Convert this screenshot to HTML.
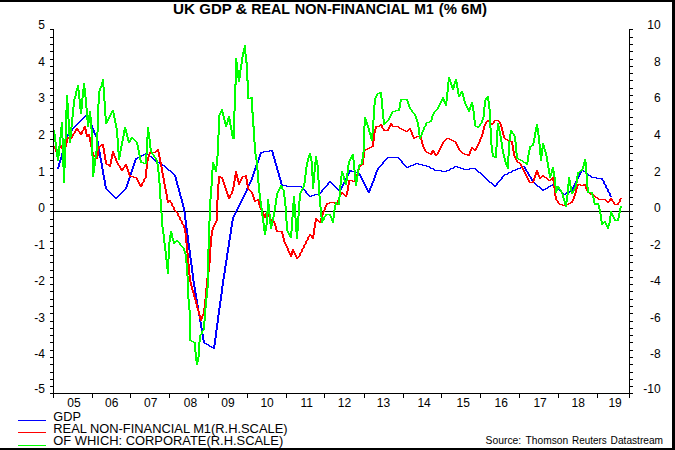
<!DOCTYPE html><html><head><meta charset="utf-8"><title>UK GDP &amp; REAL NON-FINANCIAL M1</title>
<style>html,body{margin:0;padding:0;background:#fff;}body{width:675px;height:450px;overflow:hidden;}svg{display:block;font-family:"Liberation Sans",sans-serif;}</style></head><body>
<svg width="675" height="450" viewBox="0 0 675 450">
<rect x="0" y="0" width="675" height="450" fill="#fff"/>
<g shape-rendering="crispEdges" stroke="none">
<rect x="53" y="211" width="580" height="1" fill="#000"/>
<path fill="#0000ff" d="M57 167h1v2h-1zM58 163h1v6h-1zM59 160h1v7h-1zM60 157h1v6h-1zM61 153h1v7h-1zM62 150h1v7h-1zM63 146h1v7h-1zM64 143h1v7h-1zM65 140h1v6h-1zM66 136h1v7h-1zM67 134h1v6h-1zM68 133h1v3h-1zM69 132h1v2h-1zM70 131h1v2h-1zM71 129h1v3h-1zM72 128h1v3h-1zM73 127h1v2h-1zM74 126h1v2h-1zM75 125h1v2h-1zM76 124h1v2h-1zM77 123h1v2h-1zM78 122h1v2h-1zM79 121h1v2h-1zM80 120h1v2h-1zM81 119h1v2h-1zM82 118h1v2h-1zM83 117h1v2h-1zM84 116h1v2h-1zM85 115h1v2h-1zM86 114h1v2h-1zM87 114h1v4h-1zM88 116h1v4h-1zM89 118h1v5h-1zM90 120h1v5h-1zM91 123h1v5h-1zM92 125h1v5h-1zM93 128h1v5h-1zM94 130h1v5h-1zM95 133h1v4h-1zM96 135h1v6h-1zM97 137h1v10h-1zM98 141h1v11h-1zM99 147h1v11h-1zM100 152h1v11h-1zM101 158h1v11h-1zM102 163h1v12h-1zM103 169h1v11h-1zM104 175h1v11h-1zM105 180h1v9h-1zM106 186h1v4h-1zM107 189h1v2h-1zM108 190h1v2h-1zM109 191h1v2h-1zM110 192h1v2h-1zM111 193h1v2h-1zM112 194h1v2h-1zM113 195h1v2h-1zM114 196h1v2h-1zM115 197h1v2h-1zM116 197h1v2h-1zM117 196h1v2h-1zM118 195h1v2h-1zM119 194h1v2h-1zM120 193h1v2h-1zM121 192h1v2h-1zM122 191h1v2h-1zM123 190h1v2h-1zM124 189h1v2h-1zM125 187h1v3h-1zM126 184h1v5h-1zM127 181h1v6h-1zM128 178h1v6h-1zM129 175h1v6h-1zM130 172h1v6h-1zM131 169h1v6h-1zM132 166h1v6h-1zM133 163h1v6h-1zM134 160h1v6h-1zM135 158h1v5h-1zM136 158h1v2h-1zM137 157h1v2h-1zM138 157h1v1h-1zM139 156h1v2h-1zM140 156h1v1h-1zM141 155h1v2h-1zM142 155h1v1h-1zM143 154h1v2h-1zM144 154h1v1h-1zM145 153h1v2h-1zM146 153h1v1h-1zM147 153h1v2h-1zM148 154h1v2h-1zM149 155h1v2h-1zM150 156h1v1h-1zM151 156h1v2h-1zM152 157h1v2h-1zM153 158h1v2h-1zM154 159h1v2h-1zM155 160h1v2h-1zM156 161h1v1h-1zM157 161h1v2h-1zM158 162h1v1h-1zM159 162h1v2h-1zM160 163h1v2h-1zM161 164h1v1h-1zM162 164h1v2h-1zM163 165h1v1h-1zM164 165h1v2h-1zM165 166h1v2h-1zM166 167h1v2h-1zM167 168h1v2h-1zM168 169h1v2h-1zM169 170h1v1h-1zM170 170h1v2h-1zM171 171h1v2h-1zM172 172h1v2h-1zM173 173h1v2h-1zM174 174h1v3h-1zM175 175h1v6h-1zM176 177h1v8h-1zM177 181h1v7h-1zM178 185h1v7h-1zM179 188h1v8h-1zM180 192h1v7h-1zM181 196h1v7h-1zM182 199h1v8h-1zM183 203h1v9h-1zM184 207h1v13h-1zM185 212h1v16h-1zM186 220h1v15h-1zM187 228h1v15h-1zM188 235h1v15h-1zM189 243h1v15h-1zM190 250h1v15h-1zM191 258h1v15h-1zM192 265h1v16h-1zM193 273h1v14h-1zM194 281h1v12h-1zM195 287h1v12h-1zM196 293h1v12h-1zM197 299h1v12h-1zM198 305h1v11h-1zM199 311h1v11h-1zM200 316h1v12h-1zM201 322h1v12h-1zM202 328h1v12h-1zM203 334h1v9h-1zM204 340h1v4h-1zM205 343h1v1h-1zM206 343h1v2h-1zM207 344h1v1h-1zM208 344h1v2h-1zM209 345h1v2h-1zM210 346h1v1h-1zM211 346h1v2h-1zM212 347h1v1h-1zM213 345h1v4h-1zM214 338h1v11h-1zM215 330h1v15h-1zM216 323h1v15h-1zM217 315h1v15h-1zM218 308h1v15h-1zM219 301h1v14h-1zM220 294h1v14h-1zM221 286h1v15h-1zM222 279h1v15h-1zM223 273h1v13h-1zM224 266h1v13h-1zM225 260h1v13h-1zM226 253h1v13h-1zM227 247h1v13h-1zM228 240h1v13h-1zM229 234h1v13h-1zM230 227h1v13h-1zM231 221h1v13h-1zM232 217h1v10h-1zM233 215h1v6h-1zM234 213h1v4h-1zM235 211h1v4h-1zM236 209h1v4h-1zM237 207h1v4h-1zM238 205h1v4h-1zM239 203h1v4h-1zM240 201h1v4h-1zM241 199h1v4h-1zM242 197h1v4h-1zM243 195h1v4h-1zM244 193h1v4h-1zM245 191h1v4h-1zM246 188h1v5h-1zM247 186h1v5h-1zM248 184h1v4h-1zM249 182h1v4h-1zM250 180h1v4h-1zM251 177h1v5h-1zM252 174h1v6h-1zM253 171h1v6h-1zM254 168h1v6h-1zM255 165h1v6h-1zM256 163h1v5h-1zM257 160h1v5h-1zM258 157h1v6h-1zM259 154h1v6h-1zM260 152h1v5h-1zM261 152h1v2h-1zM262 152h1v1h-1zM263 151h1v2h-1zM264 151h1v1h-1zM265 151h1v1h-1zM266 151h1v1h-1zM267 151h1v1h-1zM268 151h1v1h-1zM269 150h1v2h-1zM270 150h1v1h-1zM271 150h1v2h-1zM272 150h1v6h-1zM273 152h1v7h-1zM274 156h1v7h-1zM275 159h1v7h-1zM276 163h1v7h-1zM277 166h1v7h-1zM278 170h1v7h-1zM279 173h1v7h-1zM280 177h1v7h-1zM281 180h1v6h-1zM282 184h1v2h-1zM283 185h1v1h-1zM284 185h1v1h-1zM285 185h1v1h-1zM286 185h1v2h-1zM287 186h1v1h-1zM288 186h1v1h-1zM289 186h1v1h-1zM290 186h1v1h-1zM291 186h1v1h-1zM292 186h1v1h-1zM293 186h1v1h-1zM294 186h1v1h-1zM295 186h1v1h-1zM296 186h1v1h-1zM297 186h1v1h-1zM298 186h1v1h-1zM299 186h1v1h-1zM300 186h1v1h-1zM301 186h1v2h-1zM302 187h1v2h-1zM303 188h1v2h-1zM304 189h1v2h-1zM305 190h1v3h-1zM306 191h1v3h-1zM307 193h1v2h-1zM308 194h1v2h-1zM309 195h1v2h-1zM310 196h1v1h-1zM311 195h1v2h-1zM312 195h1v1h-1zM313 195h1v1h-1zM314 194h1v2h-1zM315 194h1v1h-1zM316 194h1v1h-1zM317 194h1v1h-1zM318 193h1v2h-1zM319 193h1v1h-1zM320 192h1v2h-1zM321 190h1v3h-1zM322 189h1v3h-1zM323 188h1v2h-1zM324 187h1v2h-1zM325 186h1v2h-1zM326 185h1v2h-1zM327 183h1v3h-1zM328 182h1v3h-1zM329 181h1v2h-1zM330 181h1v2h-1zM331 182h1v2h-1zM332 183h1v2h-1zM333 184h1v2h-1zM334 185h1v2h-1zM335 186h1v2h-1zM336 187h1v2h-1zM337 188h1v2h-1zM338 189h1v2h-1zM339 190h1v2h-1zM340 188h1v4h-1zM341 186h1v4h-1zM342 184h1v4h-1zM343 182h1v4h-1zM344 180h1v4h-1zM345 178h1v4h-1zM346 176h1v4h-1zM347 174h1v4h-1zM348 172h1v4h-1zM349 170h1v4h-1zM350 170h1v2h-1zM351 170h1v2h-1zM352 171h1v1h-1zM353 171h1v1h-1zM354 171h1v2h-1zM355 172h1v1h-1zM356 172h1v1h-1zM357 172h1v2h-1zM358 173h1v1h-1zM359 173h1v3h-1zM360 174h1v4h-1zM361 176h1v4h-1zM362 178h1v4h-1zM363 180h1v4h-1zM364 182h1v4h-1zM365 184h1v4h-1zM366 186h1v4h-1zM367 188h1v4h-1zM368 190h1v3h-1zM369 188h1v5h-1zM370 186h1v5h-1zM371 183h1v5h-1zM372 181h1v5h-1zM373 178h1v5h-1zM374 175h1v6h-1zM375 172h1v6h-1zM376 170h1v5h-1zM377 168h1v4h-1zM378 167h1v3h-1zM379 166h1v2h-1zM380 165h1v2h-1zM381 164h1v2h-1zM382 162h1v3h-1zM383 161h1v3h-1zM384 160h1v2h-1zM385 159h1v2h-1zM386 158h1v2h-1zM387 157h1v2h-1zM388 157h1v1h-1zM389 157h1v1h-1zM390 157h1v1h-1zM391 157h1v1h-1zM392 157h1v1h-1zM393 157h1v1h-1zM394 157h1v1h-1zM395 157h1v1h-1zM396 157h1v1h-1zM397 157h1v1h-1zM398 157h1v2h-1zM399 158h1v2h-1zM400 159h1v2h-1zM401 160h1v3h-1zM402 161h1v3h-1zM403 163h1v2h-1zM404 164h1v2h-1zM405 165h1v2h-1zM406 166h1v2h-1zM407 167h1v1h-1zM408 166h1v2h-1zM409 166h1v1h-1zM410 165h1v2h-1zM411 165h1v1h-1zM412 165h1v1h-1zM413 164h1v2h-1zM414 164h1v1h-1zM415 163h1v2h-1zM416 163h1v1h-1zM417 163h1v1h-1zM418 163h1v2h-1zM419 164h1v1h-1zM420 164h1v1h-1zM421 164h1v1h-1zM422 164h1v2h-1zM423 165h1v1h-1zM424 165h1v1h-1zM425 165h1v1h-1zM426 165h1v2h-1zM427 166h1v1h-1zM428 166h1v1h-1zM429 166h1v2h-1zM430 167h1v2h-1zM431 168h1v1h-1zM432 168h1v1h-1zM433 168h1v2h-1zM434 169h1v2h-1zM435 170h1v1h-1zM436 170h1v1h-1zM437 170h1v1h-1zM438 170h1v1h-1zM439 170h1v1h-1zM440 170h1v1h-1zM441 170h1v2h-1zM442 171h1v1h-1zM443 171h1v1h-1zM444 171h1v1h-1zM445 171h1v1h-1zM446 170h1v2h-1zM447 170h1v1h-1zM448 170h1v1h-1zM449 169h1v2h-1zM450 168h1v2h-1zM451 168h1v1h-1zM452 168h1v1h-1zM453 167h1v2h-1zM454 166h1v2h-1zM455 166h1v1h-1zM456 166h1v1h-1zM457 166h1v2h-1zM458 167h1v1h-1zM459 167h1v1h-1zM460 167h1v2h-1zM461 168h1v1h-1zM462 168h1v1h-1zM463 168h1v2h-1zM464 169h1v1h-1zM465 169h1v1h-1zM466 169h1v1h-1zM467 169h1v1h-1zM468 169h1v1h-1zM469 168h1v2h-1zM470 168h1v1h-1zM471 168h1v1h-1zM472 168h1v1h-1zM473 168h1v1h-1zM474 168h1v1h-1zM475 168h1v2h-1zM476 169h1v2h-1zM477 170h1v2h-1zM478 171h1v2h-1zM479 172h1v1h-1zM480 172h1v2h-1zM481 173h1v2h-1zM482 174h1v2h-1zM483 175h1v2h-1zM484 176h1v2h-1zM485 177h1v2h-1zM486 178h1v2h-1zM487 179h1v2h-1zM488 180h1v2h-1zM489 181h1v2h-1zM490 182h1v1h-1zM491 182h1v2h-1zM492 183h1v2h-1zM493 184h1v2h-1zM494 185h1v2h-1zM495 185h1v2h-1zM496 183h1v3h-1zM497 182h1v3h-1zM498 181h1v2h-1zM499 180h1v2h-1zM500 179h1v2h-1zM501 177h1v3h-1zM502 176h1v3h-1zM503 175h1v2h-1zM504 174h1v2h-1zM505 174h1v1h-1zM506 174h1v1h-1zM507 173h1v2h-1zM508 172h1v2h-1zM509 172h1v1h-1zM510 172h1v1h-1zM511 171h1v2h-1zM512 170h1v2h-1zM513 170h1v1h-1zM514 170h1v1h-1zM515 169h1v2h-1zM516 169h1v1h-1zM517 168h1v2h-1zM518 168h1v1h-1zM519 168h1v1h-1zM520 167h1v2h-1zM521 167h1v1h-1zM522 166h1v2h-1zM523 166h1v1h-1zM524 166h1v3h-1zM525 167h1v4h-1zM526 169h1v3h-1zM527 171h1v3h-1zM528 172h1v4h-1zM529 174h1v3h-1zM530 176h1v3h-1zM531 177h1v4h-1zM532 179h1v3h-1zM533 181h1v2h-1zM534 182h1v2h-1zM535 183h1v2h-1zM536 184h1v2h-1zM537 185h1v2h-1zM538 186h1v1h-1zM539 186h1v2h-1zM540 187h1v2h-1zM541 188h1v2h-1zM542 189h1v2h-1zM543 189h1v2h-1zM544 189h1v1h-1zM545 188h1v2h-1zM546 188h1v1h-1zM547 187h1v2h-1zM548 186h1v2h-1zM549 186h1v1h-1zM550 185h1v2h-1zM551 185h1v1h-1zM552 184h1v2h-1zM553 184h1v2h-1zM554 185h1v2h-1zM555 186h1v2h-1zM556 187h1v2h-1zM557 188h1v2h-1zM558 189h1v1h-1zM559 189h1v2h-1zM560 190h1v2h-1zM561 191h1v2h-1zM562 192h1v2h-1zM563 193h1v2h-1zM564 194h1v1h-1zM565 193h1v2h-1zM566 192h1v2h-1zM567 192h1v1h-1zM568 192h1v1h-1zM569 191h1v2h-1zM570 190h1v2h-1zM571 189h1v2h-1zM572 187h1v4h-1zM573 185h1v4h-1zM574 183h1v4h-1zM575 181h1v4h-1zM576 179h1v4h-1zM577 177h1v4h-1zM578 175h1v4h-1zM579 173h1v4h-1zM580 171h1v4h-1zM581 169h1v4h-1zM582 169h1v2h-1zM583 170h1v2h-1zM584 171h1v1h-1zM585 171h1v2h-1zM586 172h1v2h-1zM587 173h1v2h-1zM588 174h1v2h-1zM589 175h1v1h-1zM590 175h1v2h-1zM591 176h1v2h-1zM592 177h1v1h-1zM593 177h1v1h-1zM594 177h1v1h-1zM595 177h1v1h-1zM596 177h1v2h-1zM597 178h1v1h-1zM598 178h1v1h-1zM599 178h1v1h-1zM600 178h1v1h-1zM601 178h1v2h-1zM602 178h1v3h-1zM603 180h1v4h-1zM604 181h1v4h-1zM605 184h1v4h-1zM606 185h1v4h-1zM607 188h1v4h-1zM608 189h1v4h-1zM609 192h1v4h-1zM610 193h1v4h-1zM611 196h1v1h-1z"/>
<path fill="#ff0000" d="M53 146h1v2h-1zM54 146h1v3h-1zM55 148h1v4h-1zM56 149h1v4h-1zM57 150h1v3h-1zM58 148h1v4h-1zM59 146h1v4h-1zM60 145h1v3h-1zM61 145h1v4h-1zM62 147h1v4h-1zM63 149h1v4h-1zM64 147h1v6h-1zM65 143h1v8h-1zM66 139h1v8h-1zM67 137h1v6h-1zM68 137h1v2h-1zM69 137h1v2h-1zM70 138h1v1h-1zM71 136h1v3h-1zM72 134h1v4h-1zM73 133h1v3h-1zM74 131h1v3h-1zM75 129h1v4h-1zM76 128h1v3h-1zM77 128h1v3h-1zM78 129h1v3h-1zM79 131h1v3h-1zM80 132h1v3h-1zM81 131h1v4h-1zM82 130h1v4h-1zM83 127h1v4h-1zM84 126h1v4h-1zM85 126h1v8h-1zM86 129h1v8h-1zM87 134h1v3h-1zM88 134h1v3h-1zM89 134h1v8h-1zM90 137h1v10h-1zM91 142h1v10h-1zM92 147h1v8h-1zM93 152h1v4h-1zM94 155h1v2h-1zM95 156h1v2h-1zM96 156h1v3h-1zM97 149h1v10h-1zM98 146h1v10h-1zM99 146h1v3h-1zM100 145h1v2h-1zM101 144h1v2h-1zM102 144h1v4h-1zM103 144h1v10h-1zM104 148h1v12h-1zM105 154h1v10h-1zM106 160h1v5h-1zM107 164h1v1h-1zM108 164h1v2h-1zM109 164h1v3h-1zM110 159h1v8h-1zM111 154h1v10h-1zM112 151h1v8h-1zM113 151h1v5h-1zM114 153h1v5h-1zM115 156h1v5h-1zM116 158h1v5h-1zM117 161h1v4h-1zM118 163h1v3h-1zM119 165h1v3h-1zM120 166h1v4h-1zM121 168h1v3h-1zM122 168h1v3h-1zM123 167h1v3h-1zM124 165h1v3h-1zM125 164h1v3h-1zM126 164h1v5h-1zM127 166h1v6h-1zM128 169h1v6h-1zM129 172h1v5h-1zM130 175h1v2h-1zM131 176h1v1h-1zM132 176h1v1h-1zM133 176h1v2h-1zM134 177h1v1h-1zM135 177h1v1h-1zM136 177h1v3h-1zM137 178h1v4h-1zM138 180h1v4h-1zM139 182h1v4h-1zM140 184h1v3h-1zM141 183h1v4h-1zM142 182h1v4h-1zM143 179h1v4h-1zM144 178h1v4h-1zM145 169h1v10h-1zM146 161h1v17h-1zM147 157h1v12h-1zM148 154h1v7h-1zM149 152h1v5h-1zM150 152h1v2h-1zM151 152h1v1h-1zM152 152h1v1h-1zM153 152h1v1h-1zM154 152h1v1h-1zM155 151h1v2h-1zM156 150h1v2h-1zM157 149h1v3h-1zM158 149h1v8h-1zM159 152h1v10h-1zM160 157h1v10h-1zM161 162h1v11h-1zM162 167h1v11h-1zM163 173h1v11h-1zM164 178h1v11h-1zM165 184h1v10h-1zM166 189h1v11h-1zM167 194h1v9h-1zM168 200h1v3h-1zM169 200h1v2h-1zM170 200h1v3h-1zM171 202h1v4h-1zM172 203h1v4h-1zM173 206h1v4h-1zM174 207h1v4h-1zM175 210h1v2h-1zM176 211h1v2h-1zM177 212h1v4h-1zM178 213h1v4h-1zM179 216h1v4h-1zM180 217h1v4h-1zM181 220h1v4h-1zM182 221h1v4h-1zM183 224h1v4h-1zM184 225h1v8h-1zM185 228h1v15h-1zM186 233h1v20h-1zM187 243h1v21h-1zM188 253h1v22h-1zM189 264h1v18h-1zM190 275h1v11h-1zM191 282h1v8h-1zM192 286h1v7h-1zM193 290h1v7h-1zM194 293h1v7h-1zM195 297h1v7h-1zM196 300h1v8h-1zM197 304h1v7h-1zM198 308h1v7h-1zM199 311h1v8h-1zM200 315h1v6h-1zM201 316h1v5h-1zM202 314h1v5h-1zM203 308h1v8h-1zM204 299h1v15h-1zM205 288h1v20h-1zM206 278h1v21h-1zM207 272h1v16h-1zM208 263h1v15h-1zM209 247h1v25h-1zM210 236h1v27h-1zM211 230h1v17h-1zM212 227h1v9h-1zM213 225h1v5h-1zM214 223h1v4h-1zM215 221h1v4h-1zM216 200h1v23h-1zM217 184h1v37h-1zM218 176h1v24h-1zM219 176h1v8h-1zM220 176h1v2h-1zM221 177h1v2h-1zM222 177h1v5h-1zM223 179h1v6h-1zM224 182h1v6h-1zM225 185h1v6h-1zM226 188h1v6h-1zM227 191h1v6h-1zM228 194h1v5h-1zM229 195h1v4h-1zM230 194h1v4h-1zM231 191h1v4h-1zM232 187h1v7h-1zM233 181h1v10h-1zM234 175h1v12h-1zM235 171h1v10h-1zM236 171h1v7h-1zM237 174h1v8h-1zM238 178h1v7h-1zM239 181h1v4h-1zM240 179h1v4h-1zM241 177h1v4h-1zM242 176h1v3h-1zM243 176h1v1h-1zM244 176h1v1h-1zM245 175h1v4h-1zM246 175h1v10h-1zM247 179h1v10h-1zM248 185h1v5h-1zM249 189h1v2h-1zM250 190h1v2h-1zM251 191h1v3h-1zM252 192h1v5h-1zM253 194h1v6h-1zM254 197h1v5h-1zM255 200h1v2h-1zM256 200h1v1h-1zM257 199h1v2h-1zM258 199h1v6h-1zM259 201h1v7h-1zM260 205h1v5h-1zM261 208h1v4h-1zM262 210h1v4h-1zM263 212h1v4h-1zM264 214h1v4h-1zM265 213h1v5h-1zM266 211h1v5h-1zM267 211h1v4h-1zM268 213h1v4h-1zM269 215h1v4h-1zM270 217h1v3h-1zM271 219h1v2h-1zM272 220h1v1h-1zM273 220h1v3h-1zM274 221h1v5h-1zM275 223h1v7h-1zM276 226h1v6h-1zM277 230h1v2h-1zM278 231h1v1h-1zM279 231h1v1h-1zM280 231h1v1h-1zM281 231h1v3h-1zM282 231h1v7h-1zM283 234h1v8h-1zM284 238h1v6h-1zM285 242h1v4h-1zM286 244h1v4h-1zM287 246h1v5h-1zM288 248h1v5h-1zM289 251h1v4h-1zM290 253h1v4h-1zM291 251h1v6h-1zM292 249h1v6h-1zM293 249h1v4h-1zM294 251h1v4h-1zM295 253h1v4h-1zM296 255h1v4h-1zM297 257h1v2h-1zM298 256h1v2h-1zM299 253h1v4h-1zM300 252h1v4h-1zM301 249h1v4h-1zM302 248h1v4h-1zM303 245h1v4h-1zM304 244h1v4h-1zM305 241h1v4h-1zM306 240h1v4h-1zM307 237h1v4h-1zM308 236h1v4h-1zM309 234h1v3h-1zM310 234h1v2h-1zM311 235h1v3h-1zM312 235h1v4h-1zM313 228h1v11h-1zM314 222h1v13h-1zM315 218h1v10h-1zM316 218h1v4h-1zM317 219h1v2h-1zM318 220h1v2h-1zM319 221h1v2h-1zM320 218h1v5h-1zM321 215h1v6h-1zM322 212h1v6h-1zM323 210h1v5h-1zM324 207h1v5h-1zM325 205h1v5h-1zM326 203h1v4h-1zM327 203h1v2h-1zM328 203h1v1h-1zM329 202h1v2h-1zM330 202h1v1h-1zM331 202h1v1h-1zM332 202h1v1h-1zM333 202h1v1h-1zM334 202h1v2h-1zM335 203h1v2h-1zM336 203h1v2h-1zM337 200h1v5h-1zM338 197h1v6h-1zM339 195h1v5h-1zM340 193h1v4h-1zM341 192h1v3h-1zM342 192h1v2h-1zM343 193h1v2h-1zM344 194h1v2h-1zM345 195h1v2h-1zM346 191h1v6h-1zM347 185h1v10h-1zM348 180h1v11h-1zM349 180h1v5h-1zM350 180h1v1h-1zM351 180h1v1h-1zM352 180h1v2h-1zM353 181h1v1h-1zM354 180h1v2h-1zM355 177h1v5h-1zM356 174h1v6h-1zM357 170h1v7h-1zM358 167h1v7h-1zM359 165h1v5h-1zM360 165h1v2h-1zM361 164h1v2h-1zM362 158h1v7h-1zM363 150h1v15h-1zM364 150h1v8h-1zM365 149h1v2h-1zM366 149h1v1h-1zM367 148h1v2h-1zM368 148h1v1h-1zM369 147h1v2h-1zM370 147h1v1h-1zM371 146h1v2h-1zM372 141h1v6h-1zM373 133h1v14h-1zM374 129h1v12h-1zM375 126h1v7h-1zM376 126h1v3h-1zM377 126h1v1h-1zM378 126h1v1h-1zM379 125h1v2h-1zM380 124h1v2h-1zM381 124h1v4h-1zM382 125h1v4h-1zM383 128h1v3h-1zM384 129h1v2h-1zM385 130h1v1h-1zM386 130h1v1h-1zM387 129h1v2h-1zM388 127h1v4h-1zM389 125h1v4h-1zM390 123h1v4h-1zM391 123h1v3h-1zM392 124h1v3h-1zM393 126h1v1h-1zM394 126h1v1h-1zM395 126h1v1h-1zM396 126h1v1h-1zM397 126h1v1h-1zM398 126h1v2h-1zM399 127h1v2h-1zM400 128h1v1h-1zM401 128h1v2h-1zM402 129h1v1h-1zM403 129h1v2h-1zM404 130h1v1h-1zM405 130h1v2h-1zM406 131h1v1h-1zM407 130h1v2h-1zM408 129h1v2h-1zM409 128h1v2h-1zM410 128h1v4h-1zM411 130h1v5h-1zM412 132h1v5h-1zM413 135h1v4h-1zM414 137h1v2h-1zM415 137h1v1h-1zM416 136h1v2h-1zM417 136h1v1h-1zM418 136h1v1h-1zM419 136h1v2h-1zM420 137h1v3h-1zM421 137h1v7h-1zM422 140h1v7h-1zM423 144h1v5h-1zM424 147h1v4h-1zM425 149h1v3h-1zM426 151h1v2h-1zM427 152h1v1h-1zM428 152h1v2h-1zM429 153h1v1h-1zM430 153h1v2h-1zM431 151h1v4h-1zM432 150h1v4h-1zM433 150h1v3h-1zM434 151h1v4h-1zM435 153h1v3h-1zM436 154h1v2h-1zM437 152h1v3h-1zM438 150h1v4h-1zM439 148h1v4h-1zM440 146h1v4h-1zM441 144h1v4h-1zM442 142h1v4h-1zM443 141h1v3h-1zM444 140h1v2h-1zM445 139h1v2h-1zM446 138h1v2h-1zM447 138h1v1h-1zM448 138h1v1h-1zM449 138h1v2h-1zM450 139h1v1h-1zM451 139h1v2h-1zM452 140h1v1h-1zM453 140h1v2h-1zM454 141h1v1h-1zM455 141h1v3h-1zM456 142h1v4h-1zM457 144h1v4h-1zM458 146h1v4h-1zM459 148h1v3h-1zM460 150h1v2h-1zM461 151h1v2h-1zM462 152h1v2h-1zM463 153h1v1h-1zM464 153h1v2h-1zM465 154h1v1h-1zM466 154h1v1h-1zM467 154h1v2h-1zM468 154h1v2h-1zM469 151h1v5h-1zM470 149h1v5h-1zM471 147h1v4h-1zM472 147h1v2h-1zM473 148h1v2h-1zM474 149h1v2h-1zM475 148h1v3h-1zM476 146h1v4h-1zM477 144h1v4h-1zM478 142h1v4h-1zM479 139h1v5h-1zM480 137h1v5h-1zM481 134h1v5h-1zM482 130h1v7h-1zM483 126h1v8h-1zM484 124h1v6h-1zM485 122h1v4h-1zM486 121h1v3h-1zM487 120h1v2h-1zM488 120h1v2h-1zM489 121h1v2h-1zM490 122h1v2h-1zM491 123h1v2h-1zM492 123h1v2h-1zM493 121h1v3h-1zM494 120h1v3h-1zM495 120h1v1h-1zM496 120h1v1h-1zM497 120h1v1h-1zM498 120h1v2h-1zM499 121h1v3h-1zM500 122h1v5h-1zM501 124h1v7h-1zM502 127h1v8h-1zM503 131h1v7h-1zM504 135h1v4h-1zM505 138h1v2h-1zM506 139h1v1h-1zM507 139h1v2h-1zM508 140h1v2h-1zM509 141h1v1h-1zM510 141h1v1h-1zM511 141h1v4h-1zM512 141h1v10h-1zM513 145h1v11h-1zM514 151h1v7h-1zM515 156h1v4h-1zM516 158h1v4h-1zM517 160h1v3h-1zM518 162h1v1h-1zM519 162h1v2h-1zM520 163h1v3h-1zM521 164h1v4h-1zM522 166h1v4h-1zM523 168h1v4h-1zM524 170h1v4h-1zM525 172h1v4h-1zM526 174h1v4h-1zM527 176h1v4h-1zM528 178h1v4h-1zM529 180h1v3h-1zM530 182h1v1h-1zM531 182h1v1h-1zM532 181h1v2h-1zM533 178h1v5h-1zM534 175h1v6h-1zM535 172h1v6h-1zM536 170h1v5h-1zM537 170h1v5h-1zM538 172h1v5h-1zM539 175h1v4h-1zM540 177h1v2h-1zM541 176h1v2h-1zM542 175h1v2h-1zM543 175h1v2h-1zM544 176h1v2h-1zM545 177h1v1h-1zM546 177h1v2h-1zM547 178h1v2h-1zM548 179h1v2h-1zM549 180h1v1h-1zM550 179h1v2h-1zM551 178h1v2h-1zM552 177h1v4h-1zM553 177h1v11h-1zM554 181h1v15h-1zM555 188h1v12h-1zM556 196h1v5h-1zM557 200h1v3h-1zM558 201h1v3h-1zM559 203h1v2h-1zM560 204h1v1h-1zM561 204h1v1h-1zM562 204h1v2h-1zM563 205h1v1h-1zM564 205h1v1h-1zM565 205h1v1h-1zM566 204h1v2h-1zM567 204h1v1h-1zM568 203h1v2h-1zM569 203h1v1h-1zM570 202h1v2h-1zM571 201h1v2h-1zM572 199h1v4h-1zM573 196h1v5h-1zM574 193h1v6h-1zM575 189h1v7h-1zM576 186h1v7h-1zM577 184h1v5h-1zM578 184h1v2h-1zM579 184h1v1h-1zM580 184h1v2h-1zM581 185h1v1h-1zM582 185h1v1h-1zM583 184h1v2h-1zM584 184h1v2h-1zM585 184h1v5h-1zM586 186h1v5h-1zM587 189h1v3h-1zM588 191h1v2h-1zM589 192h1v2h-1zM590 193h1v2h-1zM591 194h1v1h-1zM592 194h1v1h-1zM593 194h1v2h-1zM594 195h1v2h-1zM595 196h1v2h-1zM596 197h1v1h-1zM597 197h1v2h-1zM598 198h1v2h-1zM599 199h1v1h-1zM600 199h1v1h-1zM601 199h1v1h-1zM602 199h1v1h-1zM603 199h1v1h-1zM604 199h1v1h-1zM605 199h1v2h-1zM606 200h1v2h-1zM607 201h1v2h-1zM608 201h1v2h-1zM609 199h1v3h-1zM610 198h1v3h-1zM611 198h1v3h-1zM612 199h1v3h-1zM613 201h1v3h-1zM614 202h1v3h-1zM615 204h1v1h-1zM616 204h1v1h-1zM617 203h1v2h-1zM618 202h1v3h-1zM619 199h1v4h-1zM620 198h1v4h-1zM621 198h1v1h-1z"/>
<path fill="#00ff00" d="M53 130h1v4h-1zM54 130h1v12h-1zM55 134h1v15h-1zM56 142h1v15h-1zM57 149h1v12h-1zM58 146h1v15h-1zM59 137h1v19h-1zM60 127h1v19h-1zM61 122h1v16h-1zM62 122h1v45h-1zM63 138h1v45h-1zM64 139h1v44h-1zM65 110h1v58h-1zM66 95h1v44h-1zM67 95h1v24h-1zM68 103h1v32h-1zM69 119h1v24h-1zM70 127h1v16h-1zM71 117h1v20h-1zM72 107h1v20h-1zM73 99h1v18h-1zM74 96h1v11h-1zM75 91h1v8h-1zM76 88h1v8h-1zM77 85h1v6h-1zM78 85h1v14h-1zM79 90h1v19h-1zM80 99h1v15h-1zM81 98h1v16h-1zM82 89h1v20h-1zM83 83h1v15h-1zM84 83h1v14h-1zM85 88h1v20h-1zM86 97h1v23h-1zM87 108h1v19h-1zM88 115h1v12h-1zM89 111h1v12h-1zM90 111h1v18h-1zM91 117h1v39h-1zM92 129h1v48h-1zM93 156h1v21h-1zM94 158h1v15h-1zM95 151h1v15h-1zM96 132h1v26h-1zM97 104h1v47h-1zM98 91h1v41h-1zM99 88h1v16h-1zM100 86h1v5h-1zM101 82h1v6h-1zM102 79h1v8h-1zM103 79h1v22h-1zM104 87h1v29h-1zM105 101h1v23h-1zM106 116h1v8h-1zM107 119h1v4h-1zM108 117h1v4h-1zM109 115h1v4h-1zM110 113h1v4h-1zM111 111h1v4h-1zM112 110h1v3h-1zM113 110h1v8h-1zM114 113h1v10h-1zM115 118h1v10h-1zM116 123h1v15h-1zM117 128h1v24h-1zM118 138h1v22h-1zM119 151h1v9h-1zM120 146h1v11h-1zM121 141h1v10h-1zM122 136h1v10h-1zM123 130h1v11h-1zM124 127h1v9h-1zM125 127h1v6h-1zM126 129h1v8h-1zM127 133h1v8h-1zM128 137h1v6h-1zM129 140h1v3h-1zM130 138h1v4h-1zM131 137h1v3h-1zM132 137h1v2h-1zM133 138h1v2h-1zM134 139h1v2h-1zM135 140h1v2h-1zM136 141h1v4h-1zM137 142h1v8h-1zM138 145h1v10h-1zM139 150h1v10h-1zM140 155h1v8h-1zM141 160h1v3h-1zM142 162h1v1h-1zM143 162h1v2h-1zM144 163h1v1h-1zM145 154h1v10h-1zM146 137h1v27h-1zM147 127h1v27h-1zM148 127h1v12h-1zM149 132h1v16h-1zM150 139h1v13h-1zM151 148h1v6h-1zM152 152h1v3h-1zM153 154h1v3h-1zM154 155h1v3h-1zM155 157h1v3h-1zM156 158h1v6h-1zM157 160h1v12h-1zM158 164h1v19h-1zM159 172h1v27h-1zM160 183h1v30h-1zM161 199h1v28h-1zM162 213h1v21h-1zM163 227h1v16h-1zM164 234h1v17h-1zM165 243h1v17h-1zM166 251h1v18h-1zM167 259h1v15h-1zM168 242h1v32h-1zM169 235h1v24h-1zM170 231h1v11h-1zM171 231h1v7h-1zM172 233h1v8h-1zM173 238h1v6h-1zM174 241h1v3h-1zM175 241h1v2h-1zM176 240h1v2h-1zM177 240h1v2h-1zM178 241h1v2h-1zM179 242h1v3h-1zM180 243h1v3h-1zM181 245h1v2h-1zM182 246h1v2h-1zM183 247h1v4h-1zM184 248h1v6h-1zM185 251h1v12h-1zM186 254h1v22h-1zM187 263h1v36h-1zM188 276h1v34h-1zM189 299h1v42h-1zM190 310h1v31h-1zM191 340h1v2h-1zM192 341h1v1h-1zM193 341h1v2h-1zM194 342h1v10h-1zM195 342h1v19h-1zM196 352h1v13h-1zM197 357h1v8h-1zM198 342h1v20h-1zM199 335h1v22h-1zM200 334h1v8h-1zM201 331h1v4h-1zM202 330h1v4h-1zM203 321h1v10h-1zM204 308h1v22h-1zM205 298h1v23h-1zM206 288h1v20h-1zM207 249h1v49h-1zM208 221h1v67h-1zM209 199h1v50h-1zM210 186h1v35h-1zM211 170h1v29h-1zM212 162h1v24h-1zM213 162h1v8h-1zM214 164h1v6h-1zM215 166h1v6h-1zM216 156h1v16h-1zM217 135h1v31h-1zM218 115h1v41h-1zM219 113h1v22h-1zM220 111h1v4h-1zM221 109h1v4h-1zM222 109h1v7h-1zM223 112h1v8h-1zM224 116h1v8h-1zM225 120h1v7h-1zM226 122h1v5h-1zM227 118h1v7h-1zM228 116h1v6h-1zM229 116h1v9h-1zM230 119h1v11h-1zM231 125h1v11h-1zM232 130h1v9h-1zM233 111h1v28h-1zM234 84h1v55h-1zM235 58h1v53h-1zM236 58h1v27h-1zM237 62h1v16h-1zM238 70h1v12h-1zM239 70h1v12h-1zM240 64h1v14h-1zM241 57h1v13h-1zM242 52h1v12h-1zM243 48h1v9h-1zM244 45h1v9h-1zM245 45h1v18h-1zM246 54h1v27h-1zM247 62h1v37h-1zM248 80h1v19h-1zM249 98h1v1h-1zM250 97h1v2h-1zM251 97h1v16h-1zM252 97h1v30h-1zM253 112h1v30h-1zM254 126h1v28h-1zM255 142h1v18h-1zM256 154h1v16h-1zM257 160h1v23h-1zM258 170h1v23h-1zM259 183h1v18h-1zM260 193h1v15h-1zM261 201h1v15h-1zM262 208h1v15h-1zM263 216h1v15h-1zM264 223h1v12h-1zM265 225h1v10h-1zM266 211h1v20h-1zM267 199h1v26h-1zM268 199h1v15h-1zM269 204h1v20h-1zM270 214h1v15h-1zM271 221h1v8h-1zM272 217h1v9h-1zM273 211h1v10h-1zM274 205h1v12h-1zM275 198h1v13h-1zM276 193h1v12h-1zM277 191h1v7h-1zM278 189h1v4h-1zM279 187h1v4h-1zM280 185h1v4h-1zM281 185h1v4h-1zM282 186h1v4h-1zM283 189h1v8h-1zM284 190h1v16h-1zM285 197h1v24h-1zM286 206h1v25h-1zM287 221h1v12h-1zM288 231h1v4h-1zM289 233h1v4h-1zM290 231h1v7h-1zM291 217h1v21h-1zM292 203h1v28h-1zM293 196h1v21h-1zM294 196h1v22h-1zM295 204h1v28h-1zM296 218h1v21h-1zM297 216h1v23h-1zM298 201h1v30h-1zM299 193h1v23h-1zM300 191h1v10h-1zM301 189h1v4h-1zM302 187h1v4h-1zM303 183h1v6h-1zM304 175h1v12h-1zM305 167h1v16h-1zM306 162h1v13h-1zM307 158h1v9h-1zM308 155h1v7h-1zM309 153h1v5h-1zM310 153h1v8h-1zM311 156h1v20h-1zM312 161h1v28h-1zM313 172h1v17h-1zM314 162h1v21h-1zM315 156h1v16h-1zM316 156h1v9h-1zM317 160h1v20h-1zM318 165h1v31h-1zM319 180h1v27h-1zM320 196h1v21h-1zM321 207h1v16h-1zM322 217h1v6h-1zM323 217h1v4h-1zM324 216h1v4h-1zM325 214h1v3h-1zM326 214h1v2h-1zM327 214h1v1h-1zM328 214h1v1h-1zM329 214h1v2h-1zM330 214h1v4h-1zM331 216h1v5h-1zM332 218h1v5h-1zM333 210h1v13h-1zM334 205h1v13h-1zM335 202h1v8h-1zM336 202h1v3h-1zM337 203h1v1h-1zM338 197h1v8h-1zM339 185h1v20h-1zM340 176h1v21h-1zM341 171h1v14h-1zM342 171h1v5h-1zM343 173h1v7h-1zM344 176h1v7h-1zM345 180h1v5h-1zM346 173h1v12h-1zM347 165h1v16h-1zM348 161h1v12h-1zM349 159h1v6h-1zM350 157h1v4h-1zM351 155h1v4h-1zM352 154h1v6h-1zM353 154h1v16h-1zM354 160h1v20h-1zM355 170h1v16h-1zM356 176h1v10h-1zM357 169h1v13h-1zM358 165h1v11h-1zM359 164h1v5h-1zM360 164h1v1h-1zM361 159h1v6h-1zM362 152h1v12h-1zM363 126h1v33h-1zM364 117h1v35h-1zM365 117h1v9h-1zM366 119h1v6h-1zM367 122h1v6h-1zM368 125h1v7h-1zM369 128h1v7h-1zM370 132h1v7h-1zM371 133h1v8h-1zM372 120h1v21h-1zM373 105h1v28h-1zM374 98h1v22h-1zM375 96h1v9h-1zM376 94h1v4h-1zM377 93h1v3h-1zM378 93h1v1h-1zM379 92h1v2h-1zM380 92h1v6h-1zM381 92h1v17h-1zM382 98h1v21h-1zM383 109h1v16h-1zM384 119h1v6h-1zM385 122h1v2h-1zM386 121h1v2h-1zM387 120h1v2h-1zM388 118h1v3h-1zM389 116h1v4h-1zM390 114h1v4h-1zM391 112h1v4h-1zM392 111h1v3h-1zM393 111h1v1h-1zM394 111h1v1h-1zM395 110h1v2h-1zM396 110h1v1h-1zM397 110h1v1h-1zM398 108h1v3h-1zM399 102h1v9h-1zM400 99h1v9h-1zM401 99h1v3h-1zM402 99h1v1h-1zM403 99h1v1h-1zM404 99h1v1h-1zM405 99h1v1h-1zM406 99h1v2h-1zM407 99h1v5h-1zM408 101h1v6h-1zM409 104h1v5h-1zM410 107h1v3h-1zM411 109h1v3h-1zM412 110h1v3h-1zM413 112h1v2h-1zM414 113h1v3h-1zM415 114h1v5h-1zM416 116h1v6h-1zM417 119h1v8h-1zM418 122h1v13h-1zM419 127h1v12h-1zM420 135h1v4h-1zM421 132h1v5h-1zM422 130h1v5h-1zM423 127h1v5h-1zM424 126h1v4h-1zM425 123h1v4h-1zM426 122h1v4h-1zM427 122h1v1h-1zM428 122h1v1h-1zM429 121h1v2h-1zM430 120h1v2h-1zM431 116h1v6h-1zM432 114h1v6h-1zM433 112h1v4h-1zM434 111h1v3h-1zM435 110h1v2h-1zM436 109h1v2h-1zM437 107h1v3h-1zM438 105h1v4h-1zM439 103h1v4h-1zM440 101h1v4h-1zM441 99h1v4h-1zM442 97h1v4h-1zM443 97h1v5h-1zM444 99h1v5h-1zM445 101h1v5h-1zM446 92h1v14h-1zM447 82h1v19h-1zM448 77h1v15h-1zM449 77h1v5h-1zM450 79h1v6h-1zM451 82h1v6h-1zM452 85h1v5h-1zM453 84h1v6h-1zM454 81h1v7h-1zM455 79h1v5h-1zM456 79h1v9h-1zM457 82h1v12h-1zM458 88h1v9h-1zM459 94h1v3h-1zM460 92h1v4h-1zM461 91h1v3h-1zM462 91h1v6h-1zM463 93h1v8h-1zM464 97h1v7h-1zM465 101h1v5h-1zM466 104h1v4h-1zM467 106h1v4h-1zM468 108h1v4h-1zM469 107h1v5h-1zM470 104h1v6h-1zM471 102h1v5h-1zM472 102h1v9h-1zM473 105h1v15h-1zM474 111h1v15h-1zM475 120h1v7h-1zM476 126h1v1h-1zM477 126h1v2h-1zM478 126h1v2h-1zM479 124h1v3h-1zM480 123h1v3h-1zM481 120h1v4h-1zM482 117h1v6h-1zM483 107h1v13h-1zM484 100h1v17h-1zM485 98h1v9h-1zM486 97h1v3h-1zM487 96h1v5h-1zM488 96h1v13h-1zM489 101h1v27h-1zM490 109h1v36h-1zM491 128h1v25h-1zM492 145h1v12h-1zM493 153h1v4h-1zM494 156h1v2h-1zM495 147h1v11h-1zM496 130h1v28h-1zM497 123h1v24h-1zM498 123h1v8h-1zM499 126h1v10h-1zM500 131h1v11h-1zM501 136h1v13h-1zM502 142h1v12h-1zM503 149h1v9h-1zM504 154h1v8h-1zM505 158h1v7h-1zM506 162h1v5h-1zM507 156h1v13h-1zM508 141h1v28h-1zM509 134h1v22h-1zM510 130h1v11h-1zM511 130h1v4h-1zM512 131h1v3h-1zM513 133h1v3h-1zM514 134h1v8h-1zM515 136h1v17h-1zM516 142h1v17h-1zM517 153h1v6h-1zM518 158h1v2h-1zM519 159h1v1h-1zM520 159h1v2h-1zM521 160h1v1h-1zM522 160h1v2h-1zM523 161h1v2h-1zM524 162h1v1h-1zM525 162h1v2h-1zM526 162h1v3h-1zM527 155h1v10h-1zM528 150h1v12h-1zM529 146h1v9h-1zM530 146h1v4h-1zM531 145h1v2h-1zM532 143h1v3h-1zM533 138h1v8h-1zM534 132h1v11h-1zM535 127h1v11h-1zM536 124h1v8h-1zM537 124h1v11h-1zM538 128h1v16h-1zM539 135h1v20h-1zM540 144h1v17h-1zM541 148h1v13h-1zM542 143h1v13h-1zM543 143h1v6h-1zM544 145h1v7h-1zM545 149h1v7h-1zM546 152h1v10h-1zM547 156h1v12h-1zM548 162h1v12h-1zM549 168h1v10h-1zM550 173h1v5h-1zM551 169h1v7h-1zM552 167h1v6h-1zM553 167h1v10h-1zM554 171h1v15h-1zM555 177h1v16h-1zM556 186h1v7h-1zM557 186h1v5h-1zM558 186h1v3h-1zM559 187h1v3h-1zM560 189h1v3h-1zM561 190h1v4h-1zM562 192h1v6h-1zM563 194h1v7h-1zM564 198h1v7h-1zM565 201h1v6h-1zM566 195h1v12h-1zM567 184h1v18h-1zM568 177h1v18h-1zM569 177h1v9h-1zM570 180h1v11h-1zM571 186h1v8h-1zM572 191h1v3h-1zM573 189h1v4h-1zM574 187h1v4h-1zM575 183h1v6h-1zM576 176h1v11h-1zM577 172h1v11h-1zM578 172h1v4h-1zM579 171h1v2h-1zM580 170h1v2h-1zM581 169h1v2h-1zM582 166h1v5h-1zM583 162h1v7h-1zM584 159h1v7h-1zM585 159h1v15h-1zM586 162h1v25h-1zM587 174h1v19h-1zM588 187h1v6h-1zM589 192h1v1h-1zM590 192h1v1h-1zM591 192h1v3h-1zM592 192h1v6h-1zM593 195h1v8h-1zM594 198h1v7h-1zM595 203h1v2h-1zM596 203h1v2h-1zM597 203h1v2h-1zM598 203h1v6h-1zM599 205h1v9h-1zM600 209h1v12h-1zM601 214h1v11h-1zM602 221h1v4h-1zM603 222h1v2h-1zM604 221h1v2h-1zM605 221h1v4h-1zM606 223h1v4h-1zM607 225h1v4h-1zM608 223h1v6h-1zM609 216h1v10h-1zM610 211h1v12h-1zM611 211h1v5h-1zM612 213h1v4h-1zM613 215h1v4h-1zM614 217h1v4h-1zM615 219h1v2h-1zM616 220h1v1h-1zM617 218h1v3h-1zM618 213h1v8h-1zM619 208h1v10h-1zM620 206h1v7h-1zM621 206h1v2h-1z"/>
<path fill="#000" d="M53 29h1v365h-1zM629 29h1v369h-1zM50 393h583v1h-583zM50 29h4v1h-4zM629 29h4v1h-4zM50 37h4v1h-4zM629 37h4v1h-4zM50 44h4v1h-4zM629 44h4v1h-4zM50 51h4v1h-4zM629 51h4v1h-4zM50 59h4v1h-4zM629 59h4v1h-4zM50 66h4v1h-4zM629 66h4v1h-4zM50 73h4v1h-4zM629 73h4v1h-4zM50 80h4v1h-4zM629 80h4v1h-4zM50 88h4v1h-4zM629 88h4v1h-4zM50 95h4v1h-4zM629 95h4v1h-4zM50 102h4v1h-4zM629 102h4v1h-4zM50 109h4v1h-4zM629 109h4v1h-4zM50 117h4v1h-4zM629 117h4v1h-4zM50 124h4v1h-4zM629 124h4v1h-4zM50 131h4v1h-4zM629 131h4v1h-4zM50 139h4v1h-4zM629 139h4v1h-4zM50 146h4v1h-4zM629 146h4v1h-4zM50 153h4v1h-4zM629 153h4v1h-4zM50 160h4v1h-4zM629 160h4v1h-4zM50 168h4v1h-4zM629 168h4v1h-4zM50 175h4v1h-4zM629 175h4v1h-4zM50 182h4v1h-4zM629 182h4v1h-4zM50 190h4v1h-4zM629 190h4v1h-4zM50 197h4v1h-4zM629 197h4v1h-4zM50 204h4v1h-4zM629 204h4v1h-4zM50 211h4v1h-4zM629 211h4v1h-4zM50 219h4v1h-4zM629 219h4v1h-4zM50 226h4v1h-4zM629 226h4v1h-4zM50 233h4v1h-4zM629 233h4v1h-4zM50 241h4v1h-4zM629 241h4v1h-4zM50 248h4v1h-4zM629 248h4v1h-4zM50 255h4v1h-4zM629 255h4v1h-4zM50 262h4v1h-4zM629 262h4v1h-4zM50 270h4v1h-4zM629 270h4v1h-4zM50 277h4v1h-4zM629 277h4v1h-4zM50 284h4v1h-4zM629 284h4v1h-4zM50 291h4v1h-4zM629 291h4v1h-4zM50 299h4v1h-4zM629 299h4v1h-4zM50 306h4v1h-4zM629 306h4v1h-4zM50 313h4v1h-4zM629 313h4v1h-4zM50 321h4v1h-4zM629 321h4v1h-4zM50 328h4v1h-4zM629 328h4v1h-4zM50 335h4v1h-4zM629 335h4v1h-4zM50 342h4v1h-4zM629 342h4v1h-4zM50 350h4v1h-4zM629 350h4v1h-4zM50 357h4v1h-4zM629 357h4v1h-4zM50 364h4v1h-4zM629 364h4v1h-4zM50 372h4v1h-4zM629 372h4v1h-4zM50 379h4v1h-4zM629 379h4v1h-4zM50 386h4v1h-4zM629 386h4v1h-4zM50 393h4v1h-4zM629 393h4v1h-4zM53 393h1v5h-1zM92 393h1v5h-1zM130 393h1v5h-1zM169 393h1v5h-1zM208 393h1v5h-1zM247 393h1v5h-1zM286 393h1v5h-1zM324 393h1v5h-1zM364 393h1v5h-1zM403 393h1v5h-1zM441 393h1v5h-1zM480 393h1v5h-1zM519 393h1v5h-1zM558 393h1v5h-1zM597 393h1v5h-1z"/>
<rect x="18" y="420" width="28" height="1" fill="#0000ff"/>
<rect x="18" y="432" width="28" height="1" fill="#ff0000"/>
<rect x="18" y="445" width="28" height="1" fill="#00ff00"/>
</g>
<g fill="#000">
<g font-size="14.3" font-weight="bold">
<text x="172.9" y="13.7" textLength="22.0" lengthAdjust="spacingAndGlyphs">UK</text>
<text x="199.3" y="13.7" textLength="32.5" lengthAdjust="spacingAndGlyphs">GDP</text>
<text x="235.6" y="13.7" textLength="11.7" lengthAdjust="spacingAndGlyphs">&amp;</text>
<text x="251.2" y="13.7" textLength="38.7" lengthAdjust="spacingAndGlyphs">REAL</text>
<text x="294.8" y="13.7" textLength="114.9" lengthAdjust="spacingAndGlyphs">NON-FINANCIAL</text>
<text x="414.3" y="13.7" textLength="19.4" lengthAdjust="spacingAndGlyphs">M1</text>
<text x="438.8" y="13.7" textLength="18.2" lengthAdjust="spacingAndGlyphs">(%</text>
<text x="461.1" y="13.7" textLength="25.9" lengthAdjust="spacingAndGlyphs">6M)</text>
</g>
<g font-size="12" text-anchor="end">
<text x="45" y="29.3">5</text>
<text x="45" y="65.7">4</text>
<text x="45" y="102.1">3</text>
<text x="45" y="138.5">2</text>
<text x="45" y="175.9">1</text>
<text x="45" y="212.3">0</text>
<text x="45" y="248.7">-1</text>
<text x="45" y="285.1">-2</text>
<text x="45" y="321.5">-3</text>
<text x="45" y="357.9">-4</text>
<text x="45" y="393.3">-5</text>
<text x="660.7" y="29.3">10</text>
<text x="660.7" y="65.7">8</text>
<text x="660.7" y="102.1">6</text>
<text x="660.7" y="138.5">4</text>
<text x="660.7" y="175.9">2</text>
<text x="660.7" y="212.3">0</text>
<text x="660.7" y="248.7">-2</text>
<text x="660.7" y="285.1">-4</text>
<text x="660.7" y="321.5">-6</text>
<text x="660.7" y="357.9">-8</text>
<text x="660.7" y="393.3">-10</text>
</g>
<g font-size="12" text-anchor="middle">
<text x="74.0" y="407">05</text>
<text x="111.8" y="407">06</text>
<text x="150.8" y="407">07</text>
<text x="190.4" y="407">08</text>
<text x="228.0" y="407">09</text>
<text x="267.1" y="407">10</text>
<text x="306.7" y="407">11</text>
<text x="344.4" y="407">12</text>
<text x="383.4" y="407">13</text>
<text x="424.1" y="407">14</text>
<text x="463.3" y="407">15</text>
<text x="501.2" y="407">16</text>
<text x="540.1" y="407">17</text>
<text x="578.2" y="407">18</text>
<text x="615.1" y="407">19</text>
</g>
<g font-size="13.4">
<text x="53.3" y="420.8" textLength="27.6" lengthAdjust="spacingAndGlyphs">GDP</text>
<text x="53.3" y="432.6" textLength="234.2" lengthAdjust="spacingAndGlyphs">REAL NON-FINANCIAL M1(R.H.SCALE)</text>
<text x="53.3" y="445" textLength="229.9" lengthAdjust="spacingAndGlyphs">OF WHICH: CORPORATE(R.H.SCALE)</text>
</g>
<g font-size="10.4">
<text x="485.6" y="444.2" textLength="35.6" lengthAdjust="spacingAndGlyphs">Source:</text>
<text x="525.6" y="444.2" textLength="42.6" lengthAdjust="spacingAndGlyphs">Thomson</text>
<text x="572.1" y="444.2" textLength="34.7" lengthAdjust="spacingAndGlyphs">Reuters</text>
<text x="610.6" y="444.2" textLength="52.5" lengthAdjust="spacingAndGlyphs">Datastream</text>
</g>
</g>
<g shape-rendering="crispEdges" fill="#000"><rect x="0" y="0" width="675" height="2"/><rect x="672" y="0" width="3" height="450"/><rect x="0" y="448" width="675" height="2"/></g>
</svg></body></html>
